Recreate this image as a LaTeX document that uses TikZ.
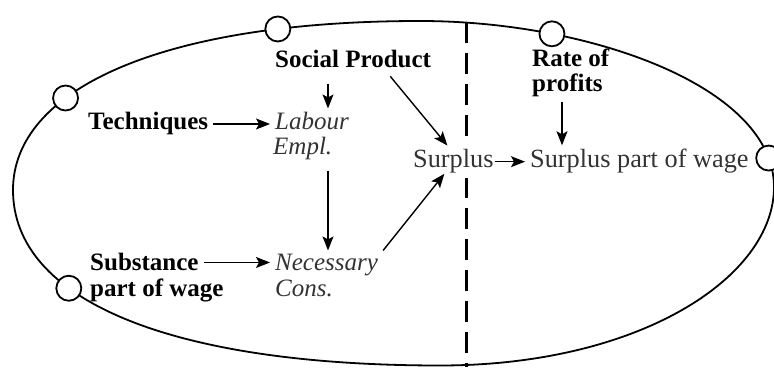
\documentclass[tikz,border=0pt]{standalone}
\usepackage{fontspec}
\setmainfont{Liberation Serif}
\usetikzlibrary{arrows.meta,calc}

\begin{document}
\begin{tikzpicture}[x=1pt,y=1pt,
  lbl/.style={anchor=base west,inner xsep=5pt,inner ysep=4pt,
              font=\fontsize{25}{28}\selectfont},
  bf/.style={lbl,font=\fontsize{25}{28}\selectfont\bfseries},
  it/.style={lbl,font=\fontsize{25}{28}\selectfont\itshape,text=black!80},
  rm/.style={lbl,font=\fontsize{26.3}{29}\selectfont,text=black!80},
  link/.style={line width=1.4pt,-{Stealth[length=14pt,width=11pt,inset=3pt]}},
  ring/.style={circle,draw,line width=1.8pt,fill=white,minimum size=25pt,inner sep=0pt},
  divider/.style={line width=3pt,dash pattern=on 21pt off 10pt}
]
\useasboundingbox (0,0) rectangle (774,367);

% outer loop (four cubic arcs, flatter along the top) with its rings
\draw[line width=1.8pt]
  (13,177) .. controls (13,277) and (160,346) .. (420,346)
     node[ring,pos=0.35] (r1) {} node[ring,pos=0.8] (r2) {}
  .. controls (590,346) and (774,280) .. (774,180)
     node[ring,pos=0.26] (r3) {} node[ring,pos=0.9] (r4) {}
  .. controls (774,90) and (640,1.5) .. (440,1.5)
  .. controls (170,1.5) and (13,67) .. (13,177)
     node[ring,pos=0.65] (r5) {}
  -- cycle;

% dividing line
\coordinate (divtop) at (466,345);
\coordinate (divbot) at (466,0);
\draw[divider] (divtop) -- (divbot);

% labels
\node[bf] (social)  at (270,299) {Social Product};
\node[bf] (tech)    at (83,237)  {Techniques};
\node[it] (labour)  at (270,237) {Labour};
\node[it] (empl)    at (268,212) {Empl.};
\node[bf] (subst)   at (85,96)   {Substance};
\node[bf] (wpart)   at (85,70)   {part of wage};
\node[it] (necess)  at (270,96)  {Necessary};
\node[it] (cons)    at (270,70)  {Cons.};
\node[rm,fill=white] (surplus) at (408,199) {Surplus};
\node[rm] (spart)   at (525,199) {Surplus part of wage};
\node[bf] (rate)    at (527,300) {Rate of};
\node[bf] (profits) at (527,275) {profits};

% columns of the vertical arrows
\coordinate (colA) at (328,0);
\coordinate (colB) at (562,0);

% arrows
\draw[link] (tech.east) -- (tech.east -| labour.west);
\draw[link,shorten <=11pt] (social.south -| colA) -- (labour.north -| colA);
\draw[link,shorten <=6pt] (empl.south -| colA) -- (necess.north -| colA);
\draw[link] (subst.east) -- (subst.east -| necess.west);
\draw[link] (necess.north east) -- ([xshift=-9pt,yshift=4pt]surplus.south);
\draw[link,shorten <=5pt] ([xshift=34pt]social.south) -- ([xshift=-6pt]surplus.north);
\draw[link,shorten <=-4pt] (surplus.east) -- (surplus.east -| spart.west);
\draw[link] (profits.south -| colB) -- (spart.north -| colB);
\end{tikzpicture}
\end{document}
